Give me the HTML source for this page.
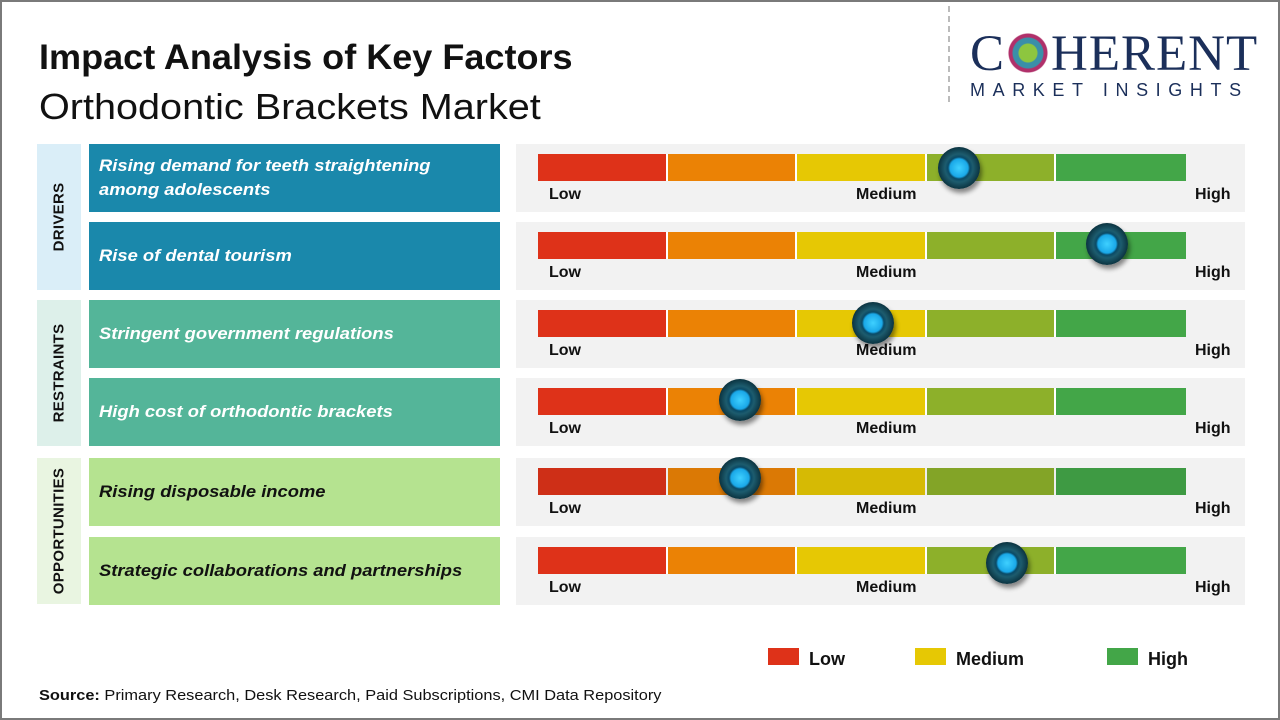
<!DOCTYPE html>
<html><head><meta charset="utf-8"><style>
*{margin:0;padding:0;box-sizing:border-box}
body{width:1280px;height:720px;position:relative;background:#fff;font-family:"Liberation Sans",sans-serif;overflow:hidden}
.frame{position:absolute;left:0;top:0;width:1280px;height:720px;border:2px solid #7a7a7a}
.a{position:absolute}
.cat{position:absolute;left:37px;width:44px}
.cat span{position:absolute;left:50%;top:50%;transform:translate(-50%,-50%) rotate(-90deg);font-weight:bold;font-size:15px;color:#111;white-space:nowrap;letter-spacing:0.3px}
.box{position:absolute;left:89px;width:411px;height:68px;display:flex;align-items:center;padding-left:10px;font-weight:bold;font-style:italic;font-size:17px;line-height:24px;color:#fff}
.box span{display:inline-block;transform:scaleX(1.08);transform-origin:left center;white-space:nowrap}
.panel{position:absolute;left:516px;width:729px;height:68px;background:#f2f2f2}
.bar{position:absolute;left:22px;top:10px;height:27px;width:648px;display:flex}
.bar div{height:27px;width:129.6px;border-right:2px solid #fff}
.bar div:last-child{border-right:none}
.lbl{position:absolute;top:42px;font-weight:bold;font-size:16px;color:#111}
.knob{position:absolute;width:42px;height:42px;border-radius:50%;background:radial-gradient(circle at 50% 50%,#3fd0ff 0,#1aa8e8 9px,#0a4a66 11px,#1d5c6e 14px,#0b3340 21px);box-shadow:2px 4px 5px rgba(0,0,0,.45)}
</style></head><body>
<div class="frame"></div>
<div class="a" style="left:39px;top:38px;font-size:35px;font-weight:bold;color:#111;transform:scaleX(1.03);transform-origin:left">Impact Analysis of Key Factors</div>
<div class="a" style="left:39px;top:86px;font-size:36px;color:#111;transform:scaleX(1.1);transform-origin:left">Orthodontic Brackets Market</div>
<div class="a" style="left:948px;top:6px;height:96px;border-left:2px dashed #bbb"></div>
<div class="a" style="left:970px;top:28px;font-family:'Liberation Serif',serif;font-size:51px;color:#1b2f5a;line-height:52px;letter-spacing:1px">C<span style="display:inline-block;width:46px;height:42px;vertical-align:-4px;background:radial-gradient(circle,#8dc63f 0,#8dc63f 9px,#3a8fa8 10px,#3a8fa8 15px,#b0306a 16px,#b0306a 19px,transparent 20px)"></span>HERENT</div>
<div class="a" style="left:970px;top:80px;font-size:18px;color:#1b2f5a;letter-spacing:7.6px">MARKET INSIGHTS</div>

<div class="cat" style="top:144px;height:146px;background:#daeef8"><span>DRIVERS</span></div>
<div class="cat" style="top:300px;height:146px;background:#ddf0ea"><span>RESTRAINTS</span></div>
<div class="cat" style="top:458px;height:146px;background:#e9f5e1"><span>OPPORTUNITIES</span></div>

<div class="box" style="top:144px;background:#1a88ab"><span>Rising demand for teeth straightening<br>among adolescents</span></div>
<div class="box" style="top:222px;background:#1a88ab"><span>Rise of dental tourism</span></div>
<div class="box" style="top:300px;background:#54b599"><span>Stringent government regulations</span></div>
<div class="box" style="top:378px;background:#54b599"><span>High cost of orthodontic brackets</span></div>
<div class="box" style="top:458px;background:#b5e390;color:#111"><span>Rising disposable income</span></div>
<div class="box" style="top:537px;background:#b5e390;color:#111"><span>Strategic collaborations and partnerships</span></div>

<div class="panel" style="top:144px"><div class="bar"><div style="background:#de3219"></div><div style="background:#eb8205"></div><div style="background:#e6c804"></div><div style="background:#8db02a"></div><div style="background:#43a648"></div></div><span class="lbl" style="left:33px">Low</span><span class="lbl" style="left:340px">Medium</span><span class="lbl" style="left:679px">High</span><div class="knob" style="left:422px;top:3px"></div></div>
<div class="panel" style="top:222px"><div class="bar"><div style="background:#de3219"></div><div style="background:#eb8205"></div><div style="background:#e6c804"></div><div style="background:#8db02a"></div><div style="background:#43a648"></div></div><span class="lbl" style="left:33px">Low</span><span class="lbl" style="left:340px">Medium</span><span class="lbl" style="left:679px">High</span><div class="knob" style="left:570px;top:1px"></div></div>
<div class="panel" style="top:300px"><div class="bar"><div style="background:#de3219"></div><div style="background:#eb8205"></div><div style="background:#e6c804"></div><div style="background:#8db02a"></div><div style="background:#43a648"></div></div><span class="lbl" style="left:33px">Low</span><span class="lbl" style="left:340px">Medium</span><span class="lbl" style="left:679px">High</span><div class="knob" style="left:336px;top:2px"></div></div>
<div class="panel" style="top:378px"><div class="bar"><div style="background:#de3219"></div><div style="background:#eb8205"></div><div style="background:#e6c804"></div><div style="background:#8db02a"></div><div style="background:#43a648"></div></div><span class="lbl" style="left:33px">Low</span><span class="lbl" style="left:340px">Medium</span><span class="lbl" style="left:679px">High</span><div class="knob" style="left:203px;top:1px"></div></div>
<div class="panel" style="top:458px"><div class="bar" style="filter:brightness(.93)"><div style="background:#de3219"></div><div style="background:#eb8205"></div><div style="background:#e6c804"></div><div style="background:#8db02a"></div><div style="background:#43a648"></div></div><span class="lbl" style="left:33px">Low</span><span class="lbl" style="left:340px">Medium</span><span class="lbl" style="left:679px">High</span><div class="knob" style="left:203px;top:-1px"></div></div>
<div class="panel" style="top:537px"><div class="bar"><div style="background:#de3219"></div><div style="background:#eb8205"></div><div style="background:#e6c804"></div><div style="background:#8db02a"></div><div style="background:#43a648"></div></div><span class="lbl" style="left:33px">Low</span><span class="lbl" style="left:340px">Medium</span><span class="lbl" style="left:679px">High</span><div class="knob" style="left:470px;top:5px"></div></div>

<div class="a" style="left:768px;top:648px;width:31px;height:17px;background:#de3219"></div>
<div class="a" style="left:809px;top:649px;font-size:18px;font-weight:bold;color:#111">Low</div>
<div class="a" style="left:915px;top:648px;width:31px;height:17px;background:#e6c804"></div>
<div class="a" style="left:956px;top:649px;font-size:18px;font-weight:bold;color:#111">Medium</div>
<div class="a" style="left:1107px;top:648px;width:31px;height:17px;background:#43a648"></div>
<div class="a" style="left:1148px;top:649px;font-size:18px;font-weight:bold;color:#111">High</div>

<div class="a" style="left:39px;top:687px;font-size:15px;color:#111;transform:scaleX(1.09);transform-origin:left;white-space:nowrap"><b>Source:</b> Primary Research, Desk Research, Paid Subscriptions, CMI Data Repository</div>
</body></html>
